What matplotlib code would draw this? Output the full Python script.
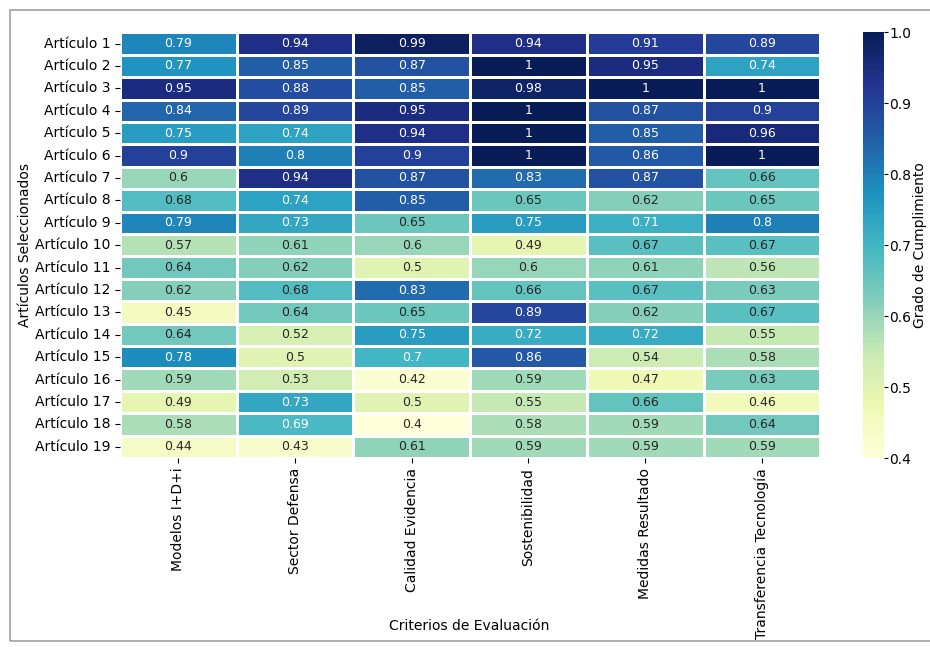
import numpy as np
import pandas as pd
import matplotlib
matplotlib.use('Agg')
import matplotlib.pyplot as plt
import seaborn as sns
from matplotlib.patches import Rectangle

criterios = ['Modelos I+D+i', 'Sector Defensa', 'Calidad Evidencia',
             'Sostenibilidad', 'Medidas Resultado', 'Transferencia Tecnología']
articulos = ['Artículo %d' % i for i in range(1, 20)]

modelos = [0.79, 0.77, 0.95, 0.84, 0.75, 0.9, 0.6, 0.68, 0.79, 0.57,
           0.64, 0.62, 0.45, 0.64, 0.78, 0.59, 0.49, 0.58, 0.44]
sector = [0.94, 0.85, 0.88, 0.89, 0.74, 0.8, 0.94, 0.74, 0.73, 0.61,
          0.62, 0.68, 0.64, 0.52, 0.5, 0.53, 0.73, 0.69, 0.43]
calidad = [0.99, 0.87, 0.85, 0.95, 0.94, 0.9, 0.87, 0.85, 0.65, 0.6,
           0.5, 0.83, 0.65, 0.75, 0.7, 0.42, 0.5, 0.4, 0.61]
sosten = [0.94, 1, 0.98, 1, 1, 1, 0.83, 0.65, 0.75, 0.49,
          0.6, 0.66, 0.89, 0.72, 0.86, 0.59, 0.55, 0.58, 0.59]
medidas = [0.91, 0.95, 1, 0.87, 0.85, 0.86, 0.87, 0.62, 0.71, 0.67,
           0.61, 0.67, 0.62, 0.72, 0.54, 0.47, 0.66, 0.59, 0.59]
transf = [0.89, 0.74, 1, 0.9, 0.96, 1, 0.66, 0.65, 0.8, 0.67,
          0.56, 0.63, 0.67, 0.55, 0.58, 0.63, 0.46, 0.64, 0.59]

df = pd.DataFrame({criterios[0]: modelos, criterios[1]: sector,
                   criterios[2]: calidad, criterios[3]: sosten,
                   criterios[4]: medidas, criterios[5]: transf},
                  index=articulos)

fig = plt.figure(figsize=(9.3, 6.47), dpi=100)
ax = fig.add_axes([0.129, 0.292, 0.753, 0.658])
cax = fig.add_axes([0.928, 0.292, 0.0226, 0.658])

sns.heatmap(df, ax=ax, cbar_ax=cax, cmap='YlGnBu', vmin=0.4, vmax=1.0,
            annot=True, fmt='.2g', linewidths=1, linecolor='white',
            annot_kws={'size': 9},
            cbar_kws={'label': 'Grado de Cumplimiento'})

ax.set_xlabel('')
fig.text(0.505, 0.032, 'Criterios de Evaluación', fontsize=10, ha='center', va='center')
ax.set_ylabel('Artículos Seleccionados', fontsize=10)
ax.yaxis.set_label_coords(-0.125, 0.5)
ax.tick_params(axis='x', labelsize=10, rotation=90)
ax.tick_params(axis='y', labelsize=10, rotation=0)
cax.tick_params(labelsize=10, length=3, pad=1)
cax.yaxis.label.set_size(10)
cax.yaxis.labelpad = 1

# marco gris (el borde derecho queda fuera de la imagen)
fig.patches.append(Rectangle((0.011, 0.009), 1.2, 0.976, transform=fig.transFigure,
                             fill=False, edgecolor='#a0a0a0', linewidth=1.2))

fig.savefig('out.png', dpi=100)
